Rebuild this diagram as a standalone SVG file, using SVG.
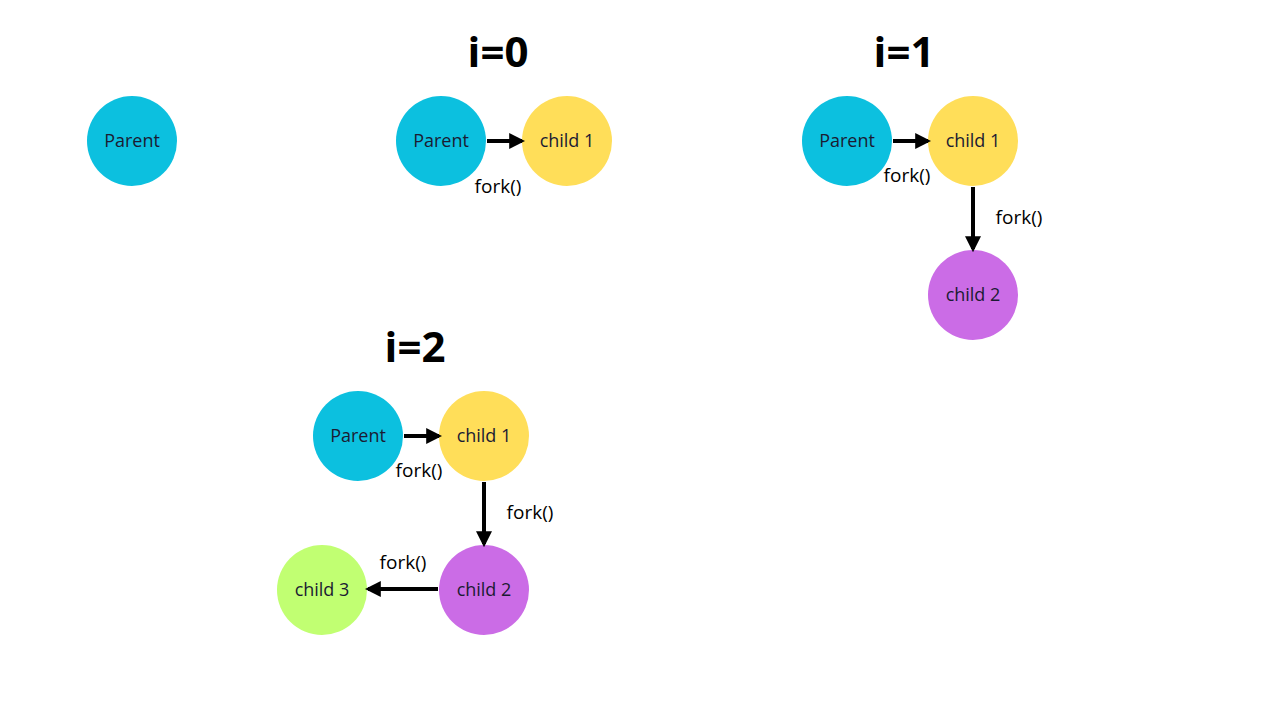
<svg xmlns="http://www.w3.org/2000/svg" width="1280" height="720" viewBox="0 0 1280 720">
<style>
.title{font-family:"Open Sans","Liberation Sans",sans-serif;font-weight:700;font-size:42px;fill:#000;text-anchor:middle}
.lbl{font-family:"Open Sans","Liberation Sans",sans-serif;font-size:18px;fill:#1b1b33;text-anchor:middle;dominant-baseline:central}
.fork{font-family:"Open Sans","Liberation Sans",sans-serif;font-size:19px;fill:#000;text-anchor:middle}
.edge{stroke:#000;stroke-width:4;fill:none;marker-end:url(#ah)}
.cy{fill:#0CC0DF}.ye{fill:#FFDE59}.pu{fill:#CB6CE6}.gr{fill:#C1FF72}
</style>
<defs>
<marker id="ah" markerWidth="4" markerHeight="4" refX="3.2" refY="2" orient="auto" markerUnits="strokeWidth" viewBox="0 0 4 4">
<path d="M0,0 L4,2 L0,4 Z" fill="#000"/>
</marker>
</defs>
<rect width="1280" height="720" fill="#fff"/>
<text class="title" x="498" y="67">i=0</text>
<text class="title" x="904" y="67">i=1</text>
<text class="title" x="415" y="362">i=2</text>
<g id="p0"><circle class="cy" cx="132" cy="141" r="45"/><text class="lbl" x="132" y="140">Parent</text></g>
<g id="a_parent"><circle class="cy" cx="441" cy="141" r="45"/><text class="lbl" x="441" y="140">Parent</text></g>
<g id="a_child1"><circle class="ye" cx="567" cy="141" r="45"/><text class="lbl" x="567" y="140">child 1</text></g>
<g id="b_parent"><circle class="cy" cx="847" cy="141" r="45"/><text class="lbl" x="847" y="140">Parent</text></g>
<g id="b_child1"><circle class="ye" cx="973" cy="141" r="45"/><text class="lbl" x="973" y="140">child 1</text></g>
<g id="b_child2"><circle class="pu" cx="973" cy="295" r="45"/><text class="lbl" x="973" y="294">child 2</text></g>
<g id="c_parent"><circle class="cy" cx="358" cy="436" r="45"/><text class="lbl" x="358" y="435">Parent</text></g>
<g id="c_child1"><circle class="ye" cx="484" cy="436" r="45"/><text class="lbl" x="484" y="435">child 1</text></g>
<g id="c_child2"><circle class="pu" cx="484" cy="590" r="45"/><text class="lbl" x="484" y="589">child 2</text></g>
<g id="c_child3"><circle class="gr" cx="322" cy="590" r="45"/><text class="lbl" x="322" y="589">child 3</text></g>
<g id="connectors">
<line class="edge" x1="487" y1="141" x2="522" y2="141"/>
<line class="edge" x1="893" y1="141" x2="928" y2="141"/>
<line class="edge" x1="973" y1="187" x2="973" y2="249"/>
<line class="edge" x1="404" y1="436" x2="439" y2="436"/>
<line class="edge" x1="484" y1="482" x2="484" y2="544"/>
<line class="edge" x1="438" y1="589" x2="368" y2="589"/>
</g>
<g id="labels">
<text class="fork" x="498" y="193">fork()</text>
<text class="fork" x="907" y="182">fork()</text>
<text class="fork" x="1019" y="224">fork()</text>
<text class="fork" x="419" y="477">fork()</text>
<text class="fork" x="530" y="519">fork()</text>
<text class="fork" x="403" y="569">fork()</text>
</g>
</svg>
